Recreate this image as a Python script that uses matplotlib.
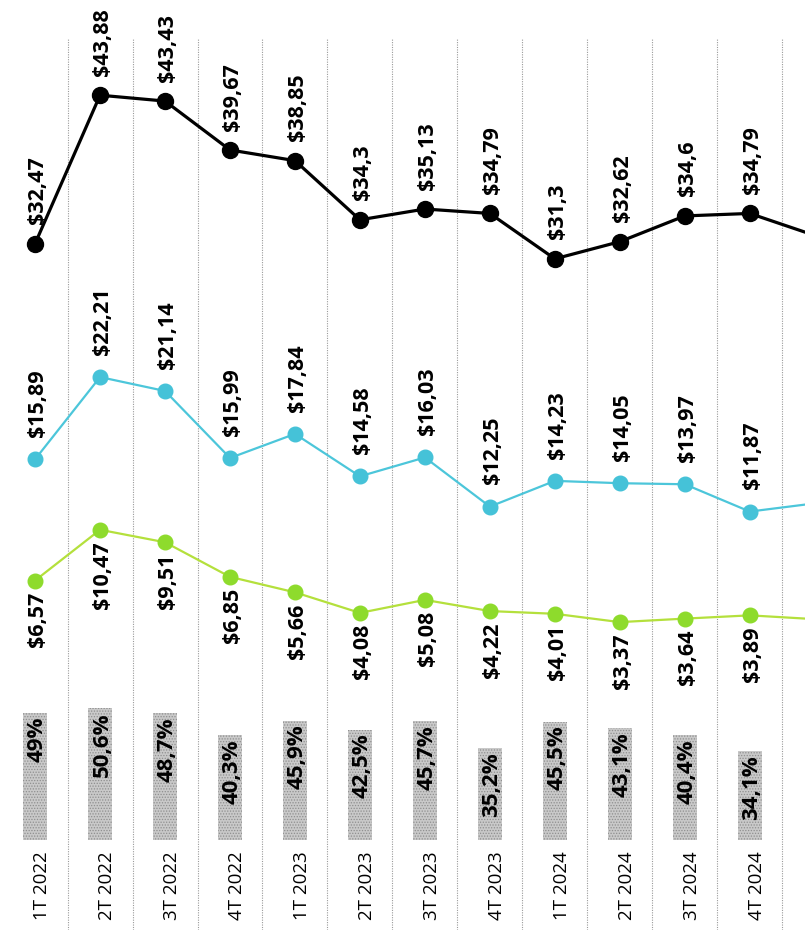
import numpy as np
import matplotlib.pyplot as plt

plt.rcParams['font.family'] = ['Open Sans', 'DejaVu Sans']

# trimestres (el último queda cortado en el borde derecho)
trimestres = ["1T 2022", "2T 2022", "3T 2022", "4T 2022",
              "1T 2023", "2T 2023", "3T 2023", "4T 2023",
              "1T 2024", "2T 2024", "3T 2024", "4T 2024", "1T 2025"]

serie_negra = [32.47, 43.88, 43.43, 39.67, 38.85, 34.30, 35.13, 34.79,
               31.30, 32.62, 34.60, 34.79, 33.1]
serie_cian = [15.89, 22.21, 21.14, 15.99, 17.84, 14.58, 16.03, 12.25,
              14.23, 14.05, 13.97, 11.87, 12.5]
serie_verde = [6.57, 10.47, 9.51, 6.85, 5.66, 4.08, 5.08, 4.22,
               4.01, 3.37, 3.64, 3.89, 3.6]

porcentajes = [49, 50.6, 48.7, 40.3, 45.9, 42.5, 45.7, 35.2,
               45.5, 43.1, 40.4, 34.1]


def fmt(v):
    s = f"{v:.2f}".rstrip("0").rstrip(".")
    return "$" + s.replace(".", ",")


def fmt_pct(p):
    s = f"{p:.1f}".rstrip("0").rstrip(".")
    return s.replace(".", ",") + "%"


fig = plt.figure(figsize=(8.05, 9.3), dpi=100, facecolor="white")
ax = fig.add_axes([0, 0, 1, 1])
ax.set_xlim(-0.54, 11.85)
ax.set_ylim(-20.3, 51.2)
ax.axis("off")

x = np.arange(len(trimestres))

# separadores punteados
for b in x[:-1] + 0.5:
    ax.plot([b, b], [-20.3, 48.2], color="#9a9a9a", lw=0.8,
            ls=(0, (1, 1.2)), zorder=0)

ax.plot(x, serie_negra, color="black", lw=2.3, marker="o", ms=11.5, zorder=3)
ax.plot(x, serie_cian, color="#4cc6da", lw=1.6, marker="o", ms=10.5,
        mfc="#45c2d8", mec="#45c2d8", zorder=3)
ax.plot(x, serie_verde, color="#b4e03c", lw=1.6, marker="o", ms=10.5,
        mfc="#8edb2c", mec="#8edb2c", zorder=3)

n = len(porcentajes)
for i in range(n):
    ax.annotate(fmt(serie_negra[i]), (x[i], serie_negra[i]), xytext=(2, 14),
                textcoords="offset points", rotation=90, ha="center",
                va="bottom", fontsize=15.5, fontweight="bold")
    ax.annotate(fmt(serie_cian[i]), (x[i], serie_cian[i]), xytext=(2, 16),
                textcoords="offset points", rotation=90, ha="center",
                va="bottom", fontsize=15.5, fontweight="bold")
    ax.annotate(fmt(serie_verde[i]), (x[i], serie_verde[i]), xytext=(2, -8),
                textcoords="offset points", rotation=90, ha="center",
                va="top", fontsize=15.5, fontweight="bold")

# barras de porcentaje
ax2 = fig.add_axes([0, 90 / 930, 1, 260 / 930], sharex=ax)
ax2.set_ylim(0, 100)
ax2.axis("off")
ax2.patch.set_alpha(0)
plt.rcParams['hatch.linewidth'] = 0.6
ax2.bar(x[:n], porcentajes, width=0.37, color="#c9c9c9", edgecolor="#8f8f8f",
        hatch="......", lw=0)
for i, p in enumerate(porcentajes):
    ax2.annotate(fmt_pct(p), (x[i], p), xytext=(1.5, -3),
                 textcoords="offset points", rotation=90, ha="center",
                 va="top", fontsize=16, fontweight="bold")

# etiquetas de trimestre
for i in range(n):
    ax.annotate(trimestres[i], (x[i], -20.3), xytext=(5, 7),
                textcoords="offset points", rotation=90, ha="center",
                va="bottom", fontsize=13.5)

fig.savefig("out.png", dpi=100, facecolor="white")
